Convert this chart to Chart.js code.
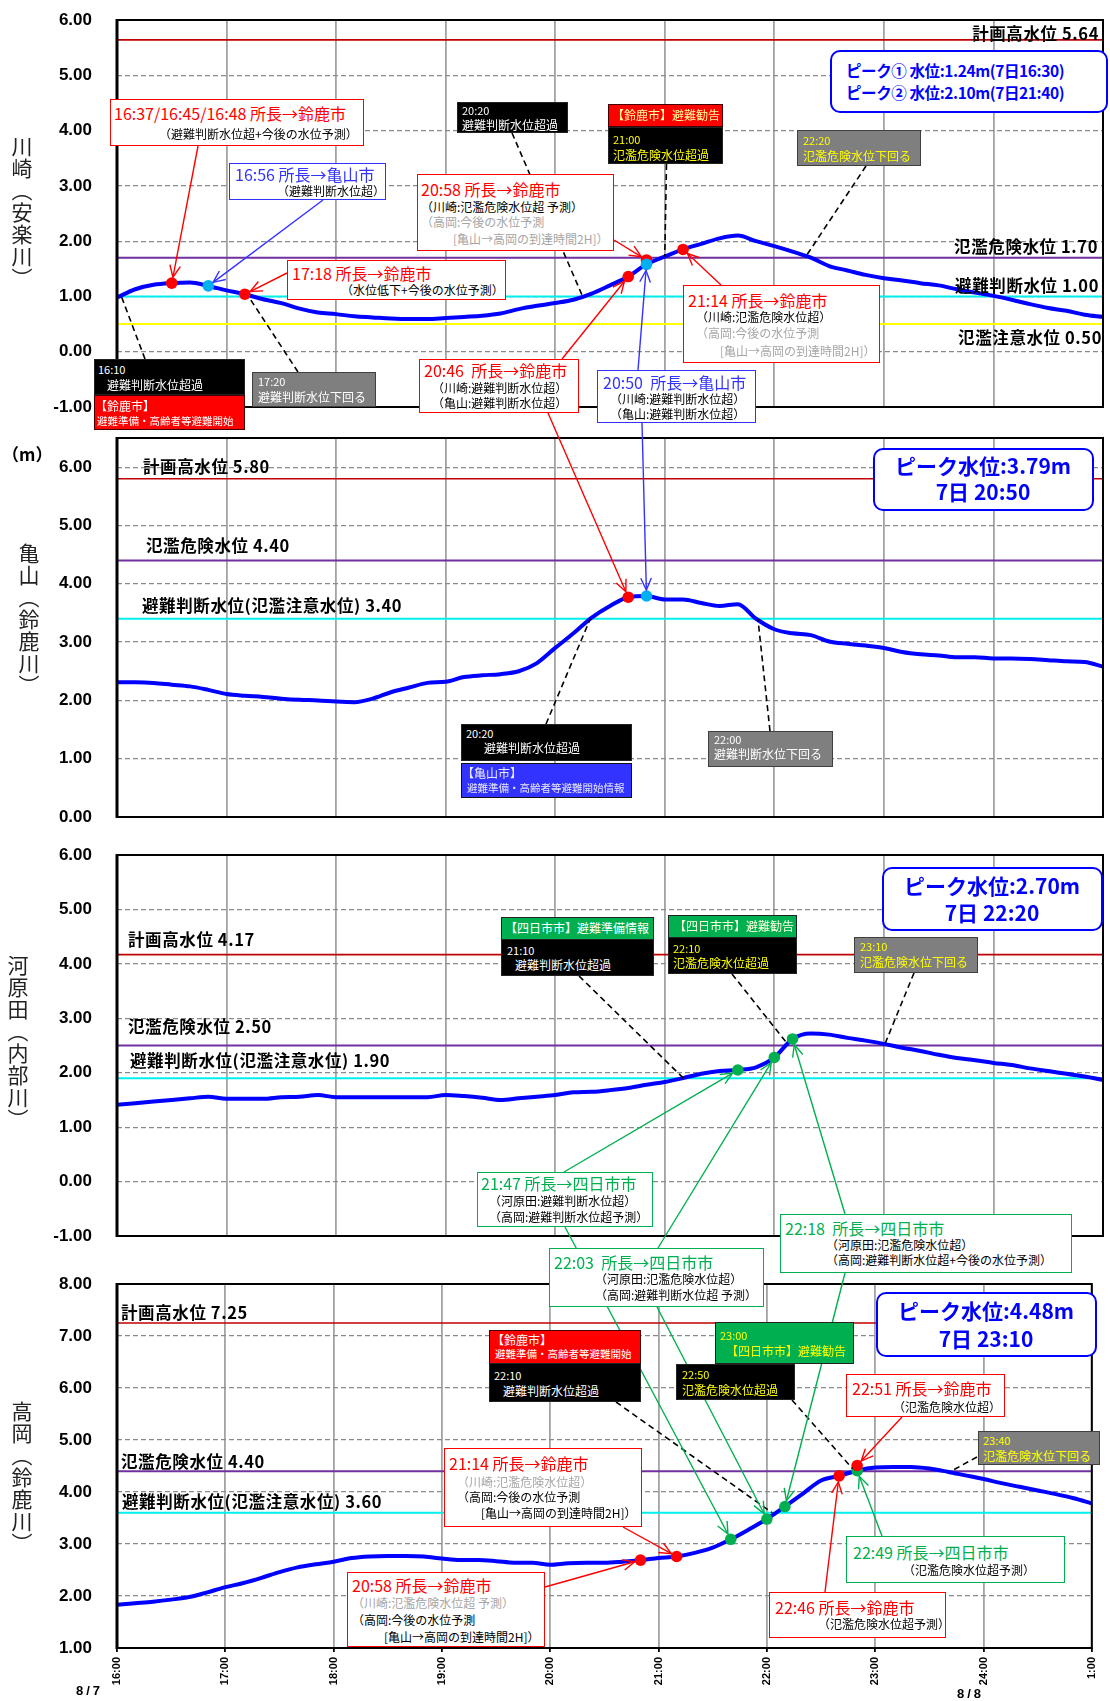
<!DOCTYPE html>
<html lang="ja">
<head>
<meta charset="utf-8">
<script src="https://cdn.jsdelivr.net/npm/chart.js@4.4.0/dist/chart.umd.min.js"></script>
<style>
  html, body { margin:0; padding:0; background:#fff; }
  #wrap { position:relative; width:1110px; height:1701px; overflow:hidden; font-family:'Noto Sans CJK JP', 'Noto Sans', sans-serif; }
  canvas.panel { position:absolute; left:0; }
  #overlay { position:absolute; left:0; top:0; pointer-events:none; }
  .box { position:absolute; box-sizing:border-box; border-style:solid; border-width:1.8px; }
  .txt { position:absolute; white-space:pre; line-height:1; }
  .vt { position:absolute; writing-mode:vertical-rl; text-orientation:upright; font-size:21px; letter-spacing:1px; color:#222; line-height:1; }
</style>
</head>
<body>
<div id="wrap">
  <canvas id="c1" class="panel" width="1110" height="419" style="top:0px"></canvas>
  <canvas id="c2" class="panel" width="1110" height="411" style="top:418px"></canvas>
  <canvas id="c3" class="panel" width="1110" height="413" style="top:835px"></canvas>
  <canvas id="c4" class="panel" width="1110" height="437" style="top:1264px"></canvas>
  <canvas id="overlay" width="1110" height="1701"></canvas>
</div>
<script>
// ---------------- DATA ----------------
const xTickLabels = ['16:00','17:00','18:00','19:00','20:00','21:00','22:00','23:00','24:00','1:00'];
// 10-minute observation times, 16:00 (8/7) to 1:00 (8/8), in hours
const times = [];
for (let m = 16 * 60; m <= 25 * 60; m += 10) times.push(m / 60);

// 川崎(安楽川)
const kawasaki = [0.98,1.13,1.21,1.24,1.25,1.19, 1.11,1.04,0.95,0.88,0.78,0.71,
  0.68,0.64,0.62,0.60,0.59,0.59, 0.61,0.63,0.65,0.69,0.77,0.83,
  0.88,0.94,1.05,1.20,1.36,1.58, 1.72,1.85,1.95,2.05,2.10,2.00,
  1.91,1.81,1.70,1.55,1.47,1.39, 1.33,1.29,1.24,1.20,1.13,1.07,
  1.01,0.94,0.86,0.79,0.74,0.67, 0.63];
// 亀山(鈴鹿川)
const kameyama = [2.31,2.31,2.30,2.27,2.24,2.18, 2.11,2.08,2.06,2.03,2.01,2.00,
  1.98,1.97,2.03,2.14,2.22,2.30, 2.32,2.40,2.43,2.45,2.50,2.64,
  2.90,3.15,3.42,3.62,3.77,3.79, 3.73,3.73,3.67,3.62,3.65,3.40,
  3.22,3.15,3.12,3.01,2.97,2.94, 2.90,2.83,2.79,2.77,2.74,2.74,
  2.72,2.72,2.71,2.69,2.67,2.66, 2.58];
// 河原田(内部川)
const kawarada = [1.41,1.44,1.47,1.50,1.53,1.56, 1.52,1.52,1.52,1.55,1.56,1.59,
  1.55,1.55,1.55,1.55,1.55,1.55, 1.59,1.57,1.54,1.50,1.53,1.56,
  1.59,1.64,1.65,1.68,1.72,1.78, 1.83,1.90,1.98,2.03,2.05,2.10,
  2.28,2.62,2.72,2.70,2.64,2.59, 2.53,2.46,2.40,2.33,2.27,2.23,
  2.18,2.14,2.08,2.03,1.98,1.93, 1.87];
// 高岡(鈴鹿川)
const takaoka = [1.83,1.86,1.89,1.93,1.98,2.07, 2.17,2.25,2.35,2.46,2.55,2.61,
  2.66,2.73,2.76,2.77,2.77,2.76, 2.72,2.69,2.69,2.67,2.64,2.64,
  2.60,2.63,2.64,2.64,2.66,2.69, 2.73,2.76,2.83,2.93,3.09,3.28,
  3.48,3.72,3.97,4.22,4.31,4.41, 4.47,4.48,4.48,4.45,4.39,4.32,
  4.25,4.17,4.10,4.03,3.96,3.88, 3.78];

// reference water levels [計画高水位, 氾濫危険水位, 避難判断水位, 氾濫注意水位]
const kawasakiLevels = [5.64, 1.70, 1.00, 0.50];
const kameyamaLevels = [5.80, 4.40, 3.40];
const kawaradaLevels = [4.17, 2.50, 1.90];
const takaokaLevels  = [7.25, 4.40, 3.60];

// notification markers (time, water level)
const kawasakiRedT = ['16:30','17:10','20:40','20:50','21:10'];
const kawasakiRedV = [1.24, 1.04, 1.36, 1.66, 1.85];
const kawasakiCyanT = ['16:50','20:50'];
const kawasakiCyanV = [1.19, 1.58];
const kameyamaRedT = ['20:40'];
const kameyamaRedV = [3.77];
const kameyamaCyanT = ['20:50'];
const kameyamaCyanV = [3.79];
const kawaradaGreenT = ['21:40','22:00','22:10'];
const kawaradaGreenV = [2.05, 2.28, 2.62];
const takaokaRedT = ['20:50','21:10','22:40','22:50'];
const takaokaRedV = [2.69, 2.76, 4.31, 4.51];
const takaokaGreenT = ['21:40','22:00','22:10','22:50'];
const takaokaGreenV = [3.09, 3.48, 3.72, 4.41];

// peak info
const peaks = {
  kawasaki: [['①', 1.24, '16:30'], ['②', 2.10, '21:40']],
  kameyama: [3.79, '20:50'],
  kawarada: [2.70, '22:20'],
  takaoka:  [4.48, '23:10']
};

// ---------------- HELPERS ----------------
const hrs = s => { const [h, m] = s.split(':').map(Number); return h + m / 60; };
const pts = (ts, vs) => ts.map((t, i) => ({x: typeof t === 'string' ? hrs(t) : t, y: vs[i]}));
const RED = '#ff0000', BLUE = '#3333ff', GREEN = '#00b050', CYANM = '#00b0f0';
const LVLCOL = ['#c00000', '#7030a0', '#00f0f0', '#ffff00'];

const framePlugin = {
  id: 'frame',
  afterDraw(c) {
    const {ctx, chartArea: a} = c;
    ctx.save();
    ctx.strokeStyle = '#000';
    ctx.lineWidth = 2;
    ctx.strokeRect(a.left, a.top, a.right - a.left, a.bottom - a.top);
    ctx.lineWidth = 3;
    ctx.beginPath(); ctx.moveTo(a.left, a.top - 1); ctx.lineTo(a.left, a.bottom + 1); ctx.stroke();
    ctx.restore();
  }
};

const canvasTops = [0, 418, 835, 1264];

function makeChart(id, series, levels, markers, ymin, ymax, isBottom) {
  const datasets = [];
  markers.forEach(m => datasets.push({
    type: 'line', data: pts(m.t, m.v), showLine: false, pointRadius: 5.8, pointBorderWidth: 0,
    pointBackgroundColor: m.color, borderColor: m.color, order: m.order
  }));
  datasets.push({
    type: 'line', data: pts(times, series), borderColor: '#0000ff', borderWidth: 4,
    pointRadius: 0, cubicInterpolationMode: 'monotone', order: 5
  });
  levels.forEach((L, i) => datasets.push({
    type: 'line', data: [{x: 16, y: L}, {x: 25, y: L}], borderColor: LVLCOL[i],
    borderWidth: i === 0 ? 1.6 : 2, pointRadius: 0, order: 10
  }));
  return new Chart(document.getElementById(id), {
    type: 'line',
    data: {datasets},
    options: {
      responsive: false, animation: false, events: [],
      layout: {padding: {top: 20, bottom: isBottom ? 0 : 12, left: 0, right: 7}},
      plugins: {legend: {display: false}, tooltip: {enabled: false}},
      scales: {
        x: {
          type: 'linear', min: 16, max: 25,
          ticks: {
            display: isBottom, stepSize: 1, autoSkip: false, maxRotation: 90, minRotation: 90,
            padding: 5, color: '#000',
            font: {family: 'Liberation Sans', size: 11, weight: 'bold'},
            callback: v => xTickLabels[Math.round(v - 16)]
          },
          grid: {color: '#a3a3a3', lineWidth: 1.8, drawTicks: isBottom, tickLength: 4, tickColor: '#000'},
          border: {display: false},
          afterFit: s => { s.height = isBottom ? 53 : 0; }
        },
        y: {
          min: ymin, max: ymax,
          ticks: {
            stepSize: 1, padding: 0, color: '#000',
            font: {family: 'Liberation Sans', size: 17, weight: 'bold'},
            callback: v => Math.abs(v - Math.round(v)) < 1e-6 ? Number(v).toFixed(2) : ''
          },
          grid: {color: '#8a8a8a', lineWidth: 1.2, drawTicks: true, tickLength: 25, tickColor: 'rgba(0,0,0,0)'},
          border: {display: false, dash: [5, 3]},
          afterFit: s => { s.width = 117; }
        }
      }
    },
    plugins: [framePlugin]
  });
}

const charts = [
  makeChart('c1', kawasaki, kawasakiLevels, [
    {t: kawasakiRedT, v: kawasakiRedV, color: RED, order: 1},
    {t: kawasakiCyanT, v: kawasakiCyanV, color: CYANM, order: 0}], -1, 6, false),
  makeChart('c2', kameyama, kameyamaLevels, [
    {t: kameyamaRedT, v: kameyamaRedV, color: RED, order: 1},
    {t: kameyamaCyanT, v: kameyamaCyanV, color: CYANM, order: 0}], 0, 6.5, false),
  makeChart('c3', kawarada, kawaradaLevels, [
    {t: kawaradaGreenT, v: kawaradaGreenV, color: GREEN, order: 0}], -1, 6, false),
  makeChart('c4', takaoka, takaokaLevels, [
    {t: takaokaGreenT, v: takaokaGreenV, color: GREEN, order: 1},
    {t: takaokaRedT, v: takaokaRedV, color: RED, order: 0}], 1, 8, true)
];

function P(pi, t, v) {
  const c = charts[pi];
  const tt = typeof t === 'string' ? hrs(t) : t;
  return [c.scales.x.getPixelForValue(tt), c.scales.y.getPixelForValue(v) + canvasTops[pi]];
}

// ---------------- OVERLAY: connectors ----------------
const octx = document.getElementById('overlay').getContext('2d');
function dashed(x1, y1, to) {
  const [x2, y2] = to;
  octx.save(); octx.strokeStyle = '#000'; octx.lineWidth = 1.6; octx.setLineDash([6, 4]);
  octx.beginPath(); octx.moveTo(x1, y1); octx.lineTo(x2, y2); octx.stroke(); octx.restore();
}
function arrow(x1, y1, to, color) {
  const [x2, y2] = to;
  const a = Math.atan2(y2 - y1, x2 - x1);
  const r = 6;
  const tx = x2 - Math.cos(a) * r, ty = y2 - Math.sin(a) * r;
  octx.save(); octx.strokeStyle = color; octx.lineWidth = 1.4; octx.setLineDash([]);
  octx.beginPath(); octx.moveTo(x1, y1); octx.lineTo(tx, ty); octx.stroke();
  const L = 13, w = 0.42;
  octx.beginPath();
  octx.moveTo(tx - L * Math.cos(a - w), ty - L * Math.sin(a - w));
  octx.lineTo(tx, ty);
  octx.lineTo(tx - L * Math.cos(a + w), ty - L * Math.sin(a + w));
  octx.stroke(); octx.restore();
}
const mk = (pi, T, V, i) => P(pi, T[i], V[i]);

// dashed connectors to level crossings
dashed(145, 359, P(0, 16.04, kawasakiLevels[2]));
dashed(298, 372, P(0, 17.21, 0.97));
dashed(512, 133, P(0, 20.25, kawasakiLevels[2]));
dashed(666.5, 164, P(0, 21.0, 1.72));
dashed(866, 166, P(0, 22.28, kawasakiLevels[1]));
dashed(546, 724, P(1, 20.32, kameyamaLevels[2]));
dashed(770, 731, P(1, 21.85, kameyamaLevels[2]));
dashed(579, 976, P(2, 21.17, kawaradaLevels[2]));
dashed(732, 974, P(2, 22.12, 2.53));
dashed(914, 973, P(2, 23.01, 2.53));
dashed(616, 1402, P(3, 22.05, takaokaLevels[2]));
dashed(792, 1400, P(3, 22.79, 4.45));
dashed(977, 1457, P(3, 23.70, takaokaLevels[1]));

// arrows to markers
arrow(198, 146, mk(0, kawasakiRedT, kawasakiRedV, 0), RED);
arrow(323, 200, mk(0, kawasakiCyanT, kawasakiCyanV, 0), BLUE);
arrow(287, 273, mk(0, kawasakiRedT, kawasakiRedV, 1), RED);
arrow(614, 240, mk(0, kawasakiRedT, kawasakiRedV, 3), RED);
arrow(562, 359, mk(0, kawasakiRedT, kawasakiRedV, 2), RED);
arrow(548, 413, mk(1, kameyamaRedT, kameyamaRedV, 0), RED);
arrow(638, 370, mk(0, kawasakiCyanT, kawasakiCyanV, 1), BLUE);
arrow(642, 423, mk(1, kameyamaCyanT, kameyamaCyanV, 0), BLUE);
arrow(721, 285, mk(0, kawasakiRedT, kawasakiRedV, 4), RED);
arrow(564, 1172, mk(2, kawaradaGreenT, kawaradaGreenV, 0), GREEN);
arrow(565, 1227, mk(3, takaokaGreenT, takaokaGreenV, 0), GREEN);
arrow(658, 1248, mk(2, kawaradaGreenT, kawaradaGreenV, 1), GREEN);
arrow(657, 1307, mk(3, takaokaGreenT, takaokaGreenV, 1), GREEN);
arrow(845, 1214, mk(2, kawaradaGreenT, kawaradaGreenV, 2), GREEN);
arrow(845, 1273, mk(3, takaokaGreenT, takaokaGreenV, 2), GREEN);
arrow(882, 1536, mk(3, takaokaGreenT, takaokaGreenV, 3), GREEN);
arrow(623, 1527, mk(3, takaokaRedT, takaokaRedV, 1), RED);
arrow(545, 1587, mk(3, takaokaRedT, takaokaRedV, 0), RED);
arrow(825, 1592, mk(3, takaokaRedT, takaokaRedV, 2), RED);
arrow(902, 1417, mk(3, takaokaRedT, takaokaRedV, 3), RED);

// ---------------- HTML boxes & texts ----------------
const wrap = document.getElementById('wrap');
const W = '#ffffff', K = '#000000', GR = '#7f7f7f', GT = '#a6a6a6', Y = '#ffff00', PB = '#0000ff';
const boxes = [
  // panel 1
  [110,99,364,146,W,RED], [229,163,386,200,W,BLUE], [287,260,506,300,W,RED],
  [94,359,245,395,K,'#222'], [94,395,245,430,RED,'#400'], [252,372,376,407,GR,'#404040'],
  [457,102,568,133,K,'#222'], [608,104,723,127,RED,'#400'], [608,127,723,164,K,'#222'],
  [797,130,921,166,GR,'#404040'], [830,50,1108,113,W,PB,10],
  [417,174,614,251,W,RED], [419,359,579,413,W,RED], [597,370,756,423,W,BLUE], [683,285,880,363,W,RED],
  // panel 2
  [873,448,1094,511,W,PB,10], [461,724,632,761,K,'#222'], [461,763,632,798,'#3333ff','#111'],
  [708,731,833,767,GR,'#404040'],
  // panel 3
  [882,867,1103,931,W,PB,10], [501,917,654,940,GREEN,'#222'], [501,939,654,976,K,'#222'],
  [668,915,797,938,GREEN,'#222'], [668,937,797,974,K,'#222'], [854,937,978,973,GR,'#404040'],
  [477,1172,653,1227,W,GREEN], [549,1248,764,1307,W,GREEN], [780,1214,1072,1273,W,GREEN],
  // panel 4
  [876,1292,1097,1357,W,PB,10], [489,1330,641,1364,RED,'#400'], [489,1363,641,1402,K,'#222'],
  [715,1322,854,1364,GREEN,'#222'], [676,1364,795,1400,K,'#222'], [846,1374,1005,1417,W,RED],
  [978,1431,1100,1465,GR,'#404040'], [444,1448,642,1527,W,RED], [347,1572,545,1647,W,RED],
  [846,1536,1065,1583,W,GREEN], [769,1592,946,1638,W,RED]
];
boxes.forEach(b => {
  const d = document.createElement('div');
  d.className = 'box';
  Object.assign(d.style, {left: b[0] + 'px', top: b[1] + 'px', width: (b[2] - b[0]) + 'px',
    height: (b[3] - b[1]) + 'px', background: b[4], borderColor: b[5]});
  if (b[6]) { d.style.borderRadius = b[6] + 'px'; d.style.borderWidth = '2px'; }
  wrap.appendChild(d);
});

const f2 = v => v.toFixed(2);
const LS = 16.5; // level label size
// [text, x, yCenter, size, color, bold, align]
const texts = [
  // panel 1
  ['16:37/16:45/16:48 所長→鈴鹿市', 114, 113, 16, RED],
  ['（避難判断水位超+今後の水位予測）', 159, 134, 12, K],
  ['16:56 所長→亀山市', 235, 174, 16, BLUE],
  ['（避難判断水位超）', 277, 191, 12, K],
  ['17:18 所長→鈴鹿市', 292, 272.7, 16, RED],
  ['（水位低下+今後の水位予測）', 341, 290, 12, K],
  ['16:10', 98, 369, 11, W], ['避難判断水位超過', 107, 385, 12, W],
  ['【鈴鹿市】', 95, 406, 12, W], ['避難準備・高齢者等避難開始', 97, 421, 10.5, W],
  ['17:20', 258, 381, 11, W], ['避難判断水位下回る', 258, 397, 12, W],
  ['20:20', 462, 110, 11, W], ['避難判断水位超過', 462, 124.7, 12, W],
  ['【鈴鹿市】避難勧告', 612, 115, 12, '#ffff99'],
  ['21:00', 613, 139, 11, Y], ['氾濫危険水位超過', 613, 154.7, 12, Y],
  ['22:20', 803, 140, 11, Y], ['氾濫危険水位下回る', 803, 155.7, 12, Y],
  ['ピーク' + peaks.kawasaki[0][0] + ' 水位:' + f2(peaks.kawasaki[0][1]) + 'm(7日' + peaks.kawasaki[0][2] + ')', 846, 71, 15.5, PB, 1],
  ['ピーク' + peaks.kawasaki[1][0] + ' 水位:' + f2(peaks.kawasaki[1][1]) + 'm(7日' + peaks.kawasaki[1][2] + ')', 846, 92.7, 15.5, PB, 1],
  ['20:58 所長→鈴鹿市', 421, 189.3, 16, RED],
  ['（川崎:氾濫危険水位超 予測）', 421, 206.7, 12, K],
  ['（高岡:今後の水位予測', 421, 221.7, 12, GT],
  ['[亀山→高岡の到達時間2H]）', 453, 238.7, 12, GT],
  ['20:46  所長→鈴鹿市', 424, 369.5, 16, RED],
  ['（川崎:避難判断水位超）', 432, 387.7, 12, K],
  ['（亀山:避難判断水位超）', 432, 403.3, 12, K],
  ['20:50  所長→亀山市', 603, 381.7, 16, BLUE],
  ['（川崎:避難判断水位超）', 610, 399.3, 12, K],
  ['（亀山:避難判断水位超）', 610, 414, 12, K],
  ['21:14 所長→鈴鹿市', 688, 299.7, 16, RED],
  ['（川崎:氾濫危険水位超）', 696, 317.3, 12, K],
  ['（高岡:今後の水位予測', 696, 333.3, 12, GT],
  ['[亀山→高岡の到達時間2H]）', 720, 350.7, 12, GT],
  ['計画高水位 ' + f2(kawasakiLevels[0]), 1099, 33.3, LS, K, 1, 'r'],
  ['氾濫危険水位 ' + f2(kawasakiLevels[1]), 1098, 246.7, LS, K, 1, 'r'],
  ['避難判断水位 ' + f2(kawasakiLevels[2]), 1099, 285, LS, K, 1, 'r'],
  ['氾濫注意水位 ' + f2(kawasakiLevels[3]), 1102, 337.3, LS, K, 1, 'r'],
  ['（m）', 2, 453, 17, K, 1],
  // panel 2
  ['計画高水位 ' + f2(kameyamaLevels[0]), 143, 466, LS, K, 1],
  ['氾濫危険水位 ' + f2(kameyamaLevels[1]), 146, 545, LS, K, 1],
  ['避難判断水位(氾濫注意水位) ' + f2(kameyamaLevels[2]), 142, 605, LS, K, 1],
  ['ピーク水位:' + f2(peaks.kameyama[0]) + 'm', 983, 465, 21, PB, 1, 'c'],
  ['7日 ' + peaks.kameyama[1], 983, 491.7, 21, PB, 1, 'c'],
  ['20:20', 466, 733.3, 11, W], ['避難判断水位超過', 484, 748, 12, W],
  ['【亀山市】', 462, 773.3, 12, '#e8e8ff'], ['避難準備・高齢者等避難開始情報', 467, 788, 10.5, '#e8e8ff'],
  ['22:00', 714, 739, 11, W], ['避難判断水位下回る', 714, 753.7, 12, W],
  // panel 3
  ['計画高水位 ' + f2(kawaradaLevels[0]), 128, 939.3, LS, K, 1],
  ['氾濫危険水位 ' + f2(kawaradaLevels[1]), 128, 1026, LS, K, 1],
  ['避難判断水位(氾濫注意水位) ' + f2(kawaradaLevels[2]), 130, 1060.7, LS, K, 1],
  ['ピーク水位:' + f2(peaks.kawarada[0]) + 'm', 992, 885, 21, PB, 1, 'c'],
  ['7日 ' + peaks.kawarada[1], 992, 912, 21, PB, 1, 'c'],
  ['【四日市市】避難準備情報', 505, 928.3, 12, W],
  ['21:10', 507, 950, 11, W], ['避難判断水位超過', 515, 965, 12, W],
  ['【四日市市】避難勧告', 674, 926, 12, '#ffffe0'],
  ['22:10', 673, 948.3, 11, Y], ['氾濫危険水位超過', 673, 962.7, 12, Y],
  ['23:10', 860, 946.7, 11, Y], ['氾濫危険水位下回る', 860, 962, 12, Y],
  ['21:47 所長→四日市市', 481, 1182.7, 16, GREEN],
  ['（河原田:避難判断水位超）', 489, 1200.7, 12, K],
  ['（高岡:避難判断水位超予測）', 489, 1216.7, 12, K],
  ['22:03  所長→四日市市', 554, 1261.7, 16, GREEN],
  ['（河原田:氾濫危険水位超）', 595, 1279.3, 12, K],
  ['（高岡:避難判断水位超 予測）', 595, 1294.7, 12, K],
  ['22:18  所長→四日市市', 785, 1227.7, 16, GREEN],
  ['（河原田:氾濫危険水位超）', 826, 1245.3, 12, K],
  ['（高岡:避難判断水位超+今後の水位予測）', 826, 1260.3, 12, K],
  // panel 4
  ['計画高水位 ' + f2(takaokaLevels[0]), 121, 1312.7, LS, K, 1],
  ['氾濫危険水位 ' + f2(takaokaLevels[1]), 121, 1461, LS, K, 1],
  ['避難判断水位(氾濫注意水位) ' + f2(takaokaLevels[2]), 122, 1501.7, LS, K, 1],
  ['ピーク水位:' + f2(peaks.takaoka[0]) + 'm', 986, 1310, 21, PB, 1, 'c'],
  ['7日 ' + peaks.takaoka[1], 986, 1338.3, 21, PB, 1, 'c'],
  ['【鈴鹿市】', 492, 1340, 12, W], ['避難準備・高齢者等避難開始', 495, 1354.3, 10.5, W],
  ['22:10', 494, 1375, 11, W], ['避難判断水位超過', 503, 1390.7, 12, W],
  ['23:00', 720, 1335.3, 11, Y], ['【四日市市】避難勧告', 726, 1351.3, 12, Y],
  ['22:50', 682, 1374.3, 11, Y], ['氾濫危険水位超過', 682, 1389.7, 12, Y],
  ['22:51 所長→鈴鹿市', 852, 1388.3, 16, RED], ['（氾濫危険水位超）', 893, 1406.7, 12, K],
  ['23:40', 983, 1440.3, 11, Y], ['氾濫危険水位下回る', 983, 1456, 12, Y],
  ['21:14 所長→鈴鹿市', 449, 1463.3, 16, RED],
  ['（川崎:氾濫危険水位超）', 457, 1481.7, 12, GT],
  ['（高岡:今後の水位予測', 457, 1497, 12, K],
  ['[亀山→高岡の到達時間2H]）', 481, 1513.3, 12, K],
  ['20:58 所長→鈴鹿市', 352, 1585, 16, RED],
  ['（川崎:氾濫危険水位超 予測）', 352, 1603.3, 12, GT],
  ['（高岡:今後の水位予測', 352, 1620, 12, K],
  ['[亀山→高岡の到達時間2H]）', 384, 1636.7, 12, K],
  ['22:49 所長→四日市市', 853, 1551.7, 16, GREEN], ['（氾濫危険水位超予測）', 903, 1569.7, 12, K],
  ['22:46 所長→鈴鹿市', 775, 1606.7, 16, RED], ['（氾濫危険水位超予測）', 818, 1624.3, 12, K],
  ['8/7', 76, 1690, 13, K, 1], ['8/8', 957, 1693, 13, K, 1]
];
texts.forEach(t => {
  const [s, x, yc, size, color, bold, align] = t;
  const d = document.createElement('div');
  d.className = 'txt';
  d.textContent = s;
  Object.assign(d.style, {left: x + 'px', top: (yc - size / 2) + 'px', fontSize: size + 'px',
    color: color, fontWeight: bold ? '700' : '400'});
  if (s === '8/7' || s === '8/8') { d.style.letterSpacing = '3px'; d.style.fontFamily = 'Liberation Sans'; }
  if (align === 'r') d.style.transform = 'translateX(-100%)';
  if (align === 'c') d.style.transform = 'translateX(-50%)';
  if (size === 15.5) d.style.letterSpacing = '-0.4px';
  if (size === LS) d.style.letterSpacing = '0.6px';
  wrap.appendChild(d);
});

// vertical station titles
[['川崎（安楽川）', 11, 136], ['亀山（鈴鹿川）', 18, 543], ['河原田（内部川）', 7, 955], ['高岡（鈴鹿川）', 11, 1401]]
  .forEach(([s, x, y]) => {
    const d = document.createElement('div');
    d.className = 'vt'; d.textContent = s;
    d.style.left = x + 'px'; d.style.top = y + 'px';
    wrap.appendChild(d);
  });
</script>
</body>
</html>
